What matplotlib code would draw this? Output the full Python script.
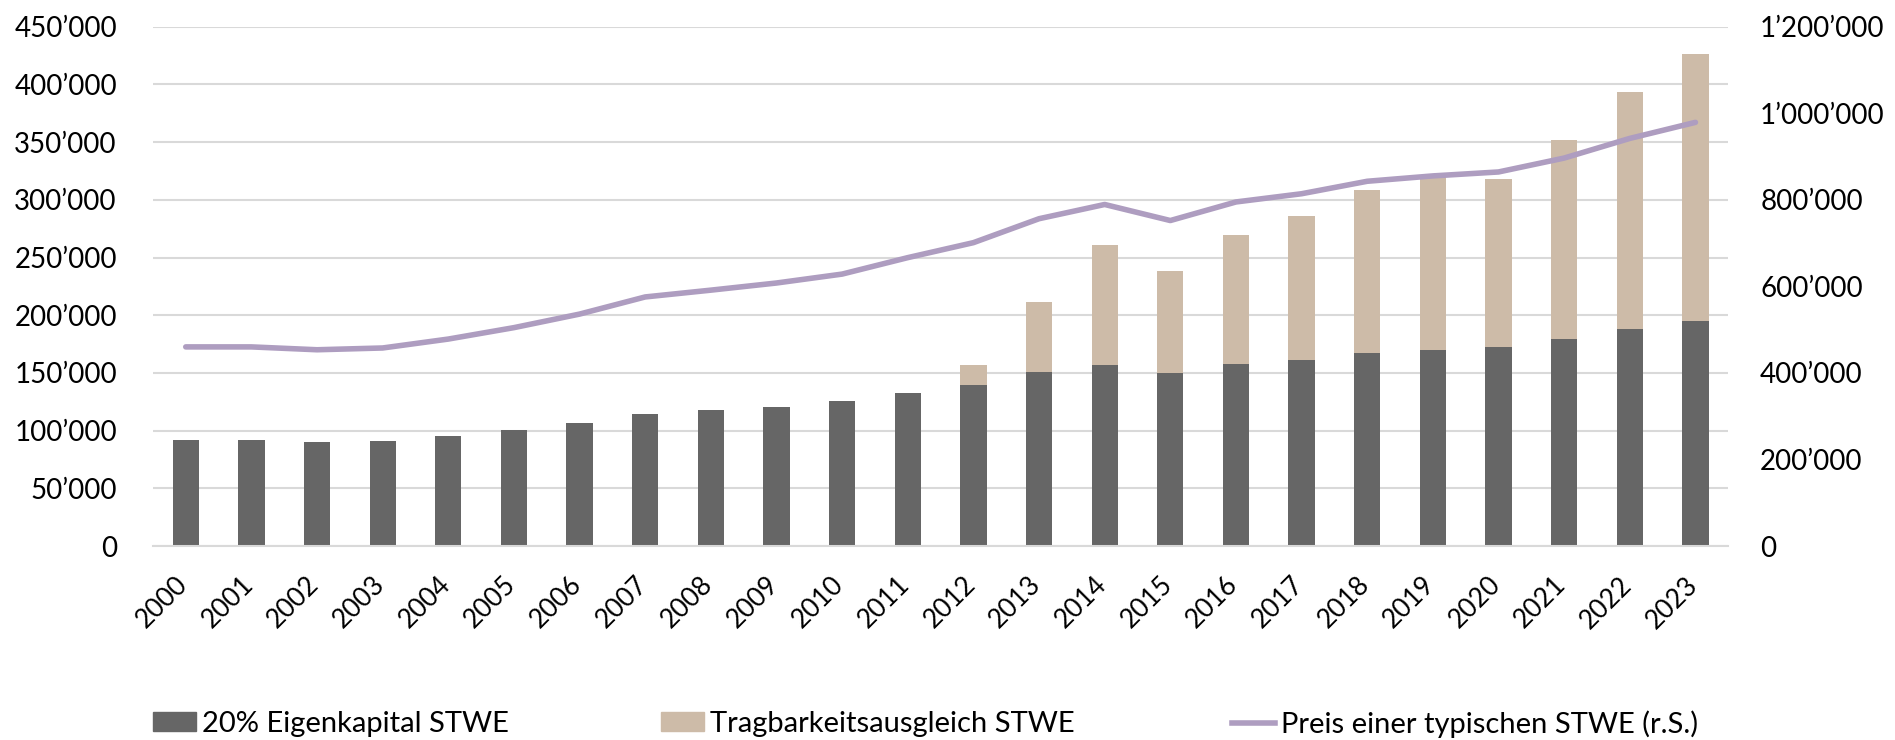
import matplotlib
matplotlib.use("Agg")
import matplotlib.pyplot as plt
import matplotlib.transforms as mtransforms
from matplotlib.patches import Patch
from matplotlib.lines import Line2D
import numpy as np

plt.rcParams['font.family'] = ['Lato', 'DejaVu Sans']

years = [str(y) for y in range(2000, 2024)]
eigenkapital = [91900, 91900, 90300, 90900, 95300, 100500, 106400, 114400, 117500, 120600,
                125300, 133000, 139200, 150600, 157100, 150000, 157700, 161400, 167300, 170100,
                172300, 179100, 187700, 195200]
total_bar = [91900, 91900, 90300, 90900, 95300, 100500, 106400, 114400, 117500, 120600,
             125300, 133000, 156800, 211600, 260700, 238100, 269700, 286100, 308700, 319500,
             317600, 351700, 393700, 425900]
tragbarkeit = [t - e for t, e in zip(total_bar, eigenkapital)]
preis = [460200, 460200, 453600, 457700, 478300, 504700, 536000, 575600, 591300, 607800,
         628400, 666400, 701000, 756300, 789200, 752100, 795000, 814000, 842800, 855200,
         864300, 896400, 941800, 978900]

label_ek = "20% Eigenkapital STWE"
label_tr = "Tragbarkeitsausgleich STWE"
label_pr = "Preis einer typischen STWE (r.S.)"

c_dark = "#666666"
c_tan = "#CDBBA8"
c_line = "#AE9DC0"
c_grid = "#D9D9D9"

fig = plt.figure(figsize=(18.95, 7.40), dpi=100)
ax = fig.add_axes([0.0807, 0.262, 0.912 - 0.0807, 0.964 - 0.262])
x = np.arange(len(years))
w = 0.4
ax.bar(x, eigenkapital, width=w, color=c_dark, zorder=2)
ax.bar(x, tragbarkeit, width=w, bottom=eigenkapital, color=c_tan, zorder=2)
ax.set_xlim(-0.5, len(years) - 0.5)
ax.set_ylim(0, 450000)
ax.set_yticks(np.arange(0, 450001, 50000))
fmt = lambda v: f"{int(v):,}".replace(",", "\u2019")
ax.set_yticklabels([fmt(v) for v in np.arange(0, 450001, 50000)])
ax.grid(axis='y', color=c_grid, linewidth=1.5, zorder=0)
ax.set_axisbelow(True)
for s in ['top', 'right', 'left']:
    ax.spines[s].set_visible(False)
ax.spines['bottom'].set_color(c_grid)
ax.spines['bottom'].set_linewidth(1.5)
ax.tick_params(axis='y', length=0, labelsize=20, pad=26)
ax.set_xticks(x)
ax.set_xticklabels(years, rotation=45, ha='right', va='center', rotation_mode='anchor')
ax.tick_params(axis='x', length=0, labelsize=19, pad=25)
offset = mtransforms.ScaledTranslation(-2 / 100, 0, fig.dpi_scale_trans)
for lab in ax.get_xticklabels():
    lab.set_transform(lab.get_transform() + offset)

ax2 = ax.twinx()
ax2.plot(x, preis, color=c_line, linewidth=4, solid_capstyle='round', zorder=3)
ax2.set_ylim(0, 1200000)
ax2.set_yticks(np.arange(0, 1200001, 200000))
ax2.set_yticklabels([fmt(v) for v in np.arange(0, 1200001, 200000)])
for s in ['top', 'right', 'left', 'bottom']:
    ax2.spines[s].set_visible(False)
ax2.tick_params(axis='y', length=0, labelsize=20, pad=23)

handles = [Patch(color=c_dark), Patch(color=c_tan), Line2D([0], [0], color=c_line, linewidth=4)]
labels = [label_ek, label_tr, label_pr]
xs = [0.0807, 0.3488, 0.6501]
for h, l, xp in zip(handles, labels, xs):
    fig.legend([h], [l], loc='center left', bbox_to_anchor=(xp, 0.0216), frameon=False,
               fontsize=21, handlelength=1.47, handleheight=0.62, handletextpad=0.2,
               borderaxespad=0, borderpad=0)

fig.savefig("out.png", dpi=100)
